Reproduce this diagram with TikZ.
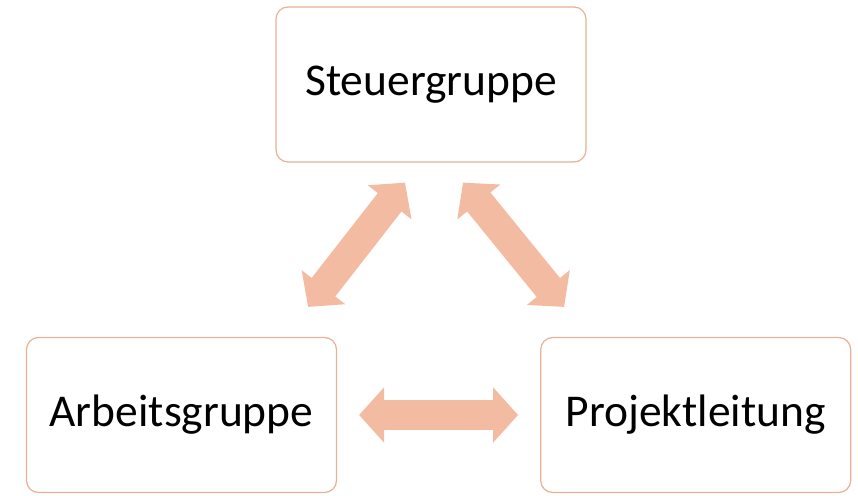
\documentclass[tikz,border=0pt]{standalone}
\usepackage{fontspec}
\setmainfont{Carlito}
\usetikzlibrary{positioning,arrows.meta}

\definecolor{boxline}{RGB}{234,176,148}
\definecolor{arrowfill}{RGB}{244,187,163}

\tikzset{
    groupbox/.style={draw=boxline, line width=1.2pt, rounded corners=12pt, fill=white,
        minimum width=310pt, minimum height=155pt, inner sep=0pt,
        font=\fontsize{45.5}{54}\selectfont},
    linkarrow/.style={draw=arrowfill, line width=30pt,
        {Triangle[length=25pt,width=54pt]}-{Triangle[length=25pt,width=54pt]}}
}

\begin{document}
\begin{tikzpicture}[x=1pt,y=-1pt]
    \useasboundingbox (0,0) rectangle (858,495);
    \node [groupbox] (sg) at (431,84.5) {Steuergruppe}; % top box
    \node [groupbox] (ag) at (181.5,415) {Arbeitsgruppe}; % bottom left box
    \node [groupbox, right=203pt of ag] (pl) {Projektleitung}; % bottom right box
    \coordinate (sgl) at ([xshift=-26pt,yshift=-20pt]sg.south); % head of left arrow
    \coordinate (sgr) at ([xshift=32pt,yshift=-20pt]sg.south); % head of right arrow
    \coordinate (agt) at ([xshift=-29pt,yshift=30pt]ag.north east); % tail of left arrow
    \coordinate (plt) at ([xshift=24pt,yshift=30pt]pl.north west); % tail of right arrow
    \draw [linkarrow] (agt) -- (sgl);
    \draw [linkarrow] (sgr) -- (plt);
    \draw [linkarrow, shorten <=22pt, shorten >=22pt] (ag.east) -- (pl.west);
\end{tikzpicture}
\end{document}
